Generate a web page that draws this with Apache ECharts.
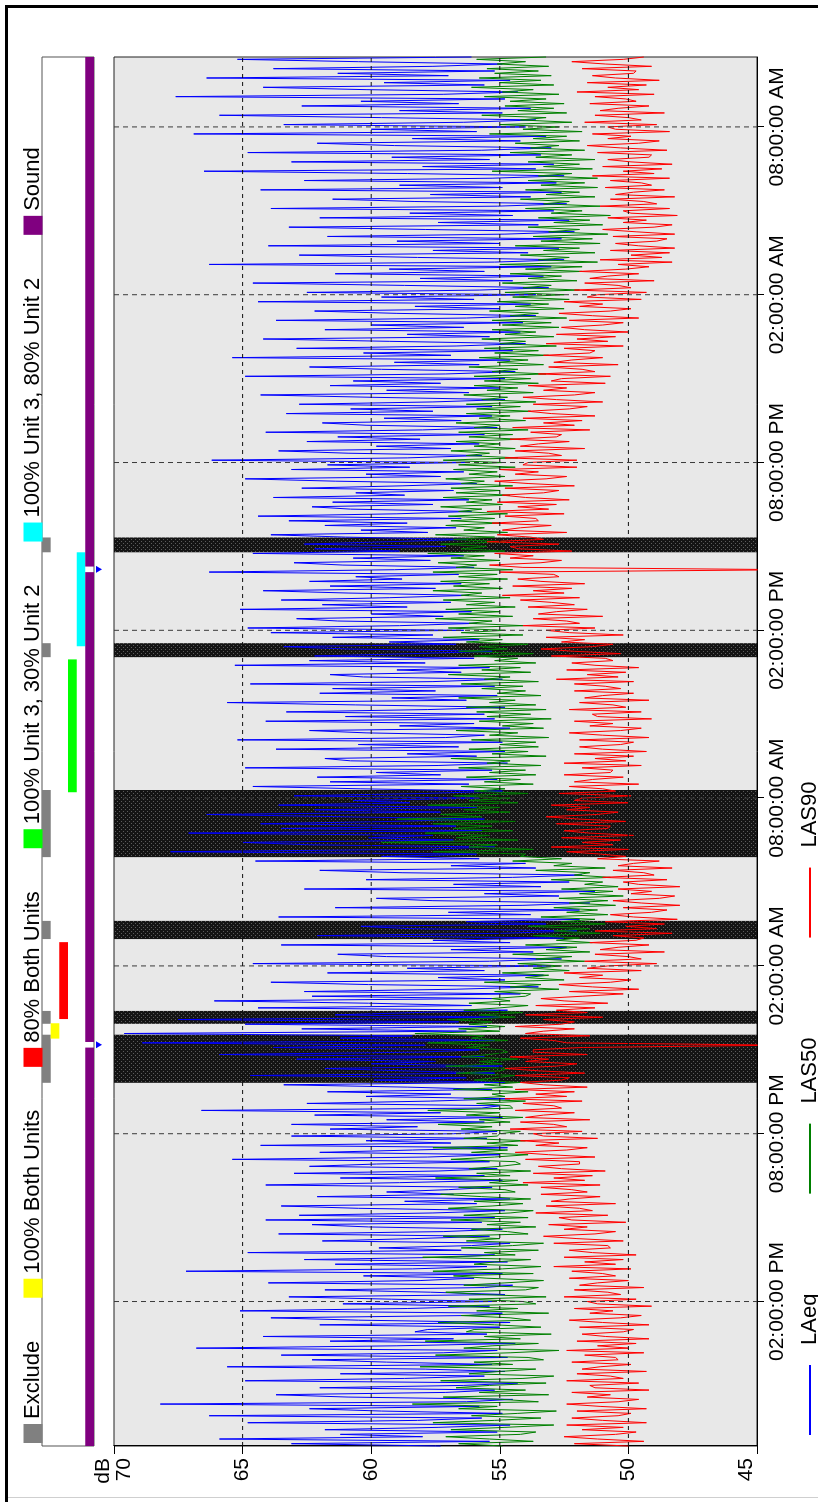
<!DOCTYPE html>
<html><head><meta charset="utf-8">
<script src="https://cdn.jsdelivr.net/npm/echarts@6/dist/echarts.min.js"></script>
<style>
html,body{margin:0;padding:0;background:#fff;overflow:hidden;width:818px;height:1502px;}
#chart{position:absolute;left:0;top:0;width:1502px;height:818px;transform-origin:0 0;transform:translate(0,1502px) rotate(-90deg);}
</style></head><body><div id="chart"></div>
<script>
// time in clock hours counted from midnight of day 1 (24 = midnight day 2, 48 = midnight day 3)
const startHour = 8 + 50/60;   // 08:50 AM day 1
const stepMinutes = 5;
const endHour = 58.5;          // 10:30 AM day 3

const laeq = [
57.3,63.1,55.4,65.9,58.0,61.2,
55.1,61.8,57.4,54.6,64.8,58.2,55.7,66.3,
54.9,59.6,62.4,55.8,68.2,56.3,54.5,60.9,63.7,57.1,55.2,62.0,
56.4,54.3,64.9,58.7,55.6,61.2,54.8,57.9,65.6,55.3,59.4,62.3,
54.7,63.5,57.2,55.1,66.8,59.0,54.4,61.6,56.8,64.2,55.5,58.3,
57.8,55.0,62.0,54.6,60.5,63.9,56.2,54.9,65.1,58.6,55.4,61.1,
55.3,59.2,63.2,54.8,57.7,61.8,55.6,54.5,64.0,58.1,56.0,60.3,
54.9,67.2,58.4,55.5,61.4,54.7,62.6,57.0,55.2,64.8,56.5,59.7,
56.1,54.6,61.9,58.3,55.4,63.6,57.2,54.9,60.1,62.3,55.7,64.1,
55.2,62.8,57.6,54.8,60.5,63.5,55.9,58.7,54.6,62.1,56.8,59.4,
57.0,55.3,64.1,58.9,54.9,61.2,55.6,63.0,57.4,55.1,62.4,59.8,
55.4,65.4,57.8,55.0,62.0,58.4,54.7,64.3,56.9,60.2,55.5,63.1,
56.8,55.1,61.6,58.2,63.1,55.6,59.4,54.9,62.2,57.3,66.6,55.7,
55.0,62.5,57.7,54.6,60.2,56.9,61.7,55.3,58.6,63.4,54.8,59.9,
56.3,64.7,55.2,58.8,61.8,54.9,60.0,57.5,62.9,55.6,65.9,58.1,
55.8,63.8,57.9,68.9,55.2,61.2,58.4,69.6,56.3,62.7,55.5,64.9,
56.6,67.5,55.0,61.4,58.3,54.7,64.4,56.1,60.1,66.1,55.3,62.3,
54.2,62.6,56.7,53.5,60.1,63.9,54.8,57.4,53.3,61.7,55.6,58.6,
53.0,64.6,55.4,52.6,59.4,61.3,53.7,56.9,52.4,63.5,54.6,57.6,
52.5,62.1,54.9,52.0,58.5,60.4,53.2,56.3,51.9,63.6,53.8,57.0,
51.9,61.4,54.1,51.5,57.6,59.8,52.7,55.6,51.3,62.6,53.4,56.8,
52.3,60.2,54.5,51.8,58.8,62.0,53.6,56.9,54.0,64.5,55.8,59.6,
55.9,67.8,58.3,55.2,62.4,65.0,56.8,60.1,57.6,67.1,55.7,63.5,
56.7,64.3,59.2,55.6,61.0,66.4,57.3,62.2,55.9,63.6,58.5,60.7,
55.8,63.0,57.9,54.9,60.4,64.6,56.2,61.6,55.1,62.1,57.3,59.8,
55.3,64.9,57.4,54.7,60.8,61.8,55.9,58.6,54.8,63.7,56.6,60.5,
54.9,65.2,57.1,55.6,60.2,62.4,54.6,58.9,56.0,64.1,55.2,61.0,
55.6,63.3,57.8,54.8,60.6,65.6,56.3,59.2,55.1,62.0,57.5,61.5,
55.2,64.7,57.6,54.9,60.3,61.6,56.5,59.0,55.4,65.3,57.9,62.4,
56.0,62.2,58.4,55.3,60.9,63.4,56.7,59.3,55.8,61.5,57.6,63.9,
56.4,64.8,58.9,55.9,61.3,62.9,57.2,60.0,56.1,65.1,58.6,61.9,
56.9,63.5,59.3,56.2,60.9,64.2,57.5,61.6,56.5,62.4,58.8,60.6,
56.6,66.3,59.1,56.0,61.1,63.0,57.7,60.7,56.4,64.6,58.9,62.2,
57.1,62.6,59.4,56.3,61.0,63.9,57.8,60.4,56.7,61.8,58.6,63.2,
56.5,64.4,59.0,56.1,60.8,62.3,57.6,61.5,56.2,63.8,58.7,60.6,
56.8,62.7,58.8,55.9,61.4,64.9,57.3,60.2,56.4,63.1,58.5,61.7,
56.2,66.2,58.6,55.7,60.9,63.6,56.9,59.8,55.8,62.5,58.1,61.3,
55.6,64.1,58.0,55.1,60.2,61.9,56.5,59.5,55.3,63.3,57.6,60.8,
55.3,62.8,57.6,54.8,60.0,64.3,56.2,59.4,55.0,61.6,57.3,60.7,
54.8,64.9,57.1,54.4,59.6,62.4,55.8,59.1,54.6,65.4,56.9,60.3,
54.5,62.9,56.7,54.0,59.3,64.2,55.4,58.6,54.2,61.8,56.4,60.0,
54.1,63.7,56.3,53.6,59.0,62.2,55.0,58.3,53.8,64.4,56.0,59.6,
53.6,62.5,55.8,53.1,58.7,64.6,54.5,58.1,53.3,61.4,55.6,59.3,
53.0,66.3,55.2,52.5,58.2,62.8,53.9,57.6,52.7,64.0,55.0,59.0,
52.6,61.7,54.8,52.1,57.9,63.2,53.5,57.4,52.3,62.0,54.5,58.5,
52.9,63.9,55.1,52.4,58.3,61.5,53.8,57.7,52.6,64.3,54.9,58.9,
52.8,62.6,55.3,52.5,58.6,66.5,53.6,58.0,52.9,63.1,55.4,59.2,
53.4,64.8,55.7,53.0,59.1,62.1,54.2,58.4,53.2,66.9,55.9,60.0,
54.0,63.4,56.4,53.6,59.6,65.9,54.9,58.9,53.8,62.7,56.6,60.4,
54.8,67.6,57.2,54.3,60.2,64.2,55.6,59.5,54.6,66.4,57.0,61.3,
55.2,63.8,57.6,54.9,60.5,65.2,56.1
];
const las50 = [
54.9,56.6,53.7,55.4,57.1,54.2,
53.6,56.9,54.8,52.9,57.6,55.2,53.4,56.1,
54.3,52.8,56.6,55.1,58.4,53.5,54.9,57.2,53.1,55.8,54.0,56.7,
55.4,53.2,57.3,54.1,52.9,56.2,55.0,53.6,58.1,54.5,56.0,53.3,
53.9,57.5,54.6,52.7,56.4,55.3,53.5,57.9,54.2,55.6,53.0,56.3,
56.0,53.4,55.2,57.4,53.8,54.6,56.5,53.1,55.9,54.3,57.0,53.6,
54.1,56.2,53.2,55.7,57.1,54.0,53.5,56.4,54.8,53.3,55.5,56.8,
53.7,57.6,54.9,53.4,56.0,55.2,53.8,58.0,54.4,55.6,53.5,56.5,
54.5,53.3,56.3,55.0,57.2,53.9,54.7,56.1,53.6,55.5,54.2,56.9,
53.9,56.4,54.6,53.7,57.0,55.3,54.1,56.0,53.8,55.7,57.3,54.4,
54.8,56.6,53.9,55.4,54.3,57.5,54.6,55.9,53.8,56.2,55.0,54.2,
54.4,56.9,55.2,53.9,56.1,54.7,57.6,54.3,55.5,54.0,56.4,55.1,
55.0,54.2,56.5,55.3,57.4,54.6,55.8,54.1,56.3,55.0,57.8,54.5,
54.6,55.9,54.0,56.4,54.8,55.3,53.9,56.8,54.5,55.6,54.2,56.0,
55.2,54.4,56.7,55.0,54.6,57.1,54.9,55.8,54.3,56.5,55.4,54.7,
54.9,56.3,55.4,57.8,54.7,56.1,55.6,58.3,55.0,56.6,54.8,56.2,
55.3,57.0,54.4,55.8,54.1,56.4,55.0,53.9,56.2,54.6,55.3,54.0,
53.8,55.2,52.7,54.6,53.4,55.6,52.5,54.0,53.1,54.9,52.3,53.7,
52.6,54.3,51.7,53.6,52.2,54.5,51.5,53.2,52.0,54.0,51.4,52.8,
51.9,53.7,51.1,52.9,51.5,53.9,50.9,52.6,51.3,53.4,50.8,52.4,
51.2,52.9,50.5,52.3,50.8,52.7,50.2,51.9,50.6,52.6,50.4,51.7,
51.0,53.0,50.7,52.1,51.5,53.6,50.9,52.9,52.2,54.5,52.6,54.2,
54.0,57.6,53.7,56.2,55.1,59.6,54.3,56.7,55.4,57.9,54.5,56.8,
55.3,57.6,54.4,59.0,55.7,57.3,54.6,56.4,55.0,57.8,54.3,56.2,
54.6,56.8,53.9,56.0,54.8,56.5,53.7,55.6,54.2,56.3,53.6,55.4,
54.0,56.6,53.4,55.5,54.6,56.9,53.2,55.3,53.9,56.2,53.5,55.0,
53.6,56.1,53.1,55.4,54.3,56.7,53.3,54.9,53.7,55.8,53.0,55.5,
53.8,55.9,53.2,56.3,53.6,55.4,54.4,56.6,53.4,55.1,54.0,55.7,
54.1,56.5,53.5,55.6,54.6,57.0,53.8,55.7,54.2,56.6,53.6,55.2,
54.3,56.0,53.7,56.6,54.7,55.8,53.9,56.3,54.9,57.2,54.1,56.5,
54.8,57.0,54.1,56.2,55.3,57.5,54.5,56.6,55.0,57.1,54.4,56.3,
55.2,57.2,54.6,56.5,55.7,57.6,54.9,56.8,55.4,57.3,54.7,56.6,
55.1,57.6,54.5,56.7,55.9,57.4,55.0,56.9,55.6,57.8,54.8,56.5,
55.5,57.3,54.8,56.8,55.2,57.5,54.7,56.4,55.6,57.1,55.0,56.9,
55.2,57.0,54.7,56.6,55.7,57.3,54.9,56.3,55.3,57.2,54.6,56.7,
55.0,56.9,54.5,56.5,55.6,57.1,54.8,56.2,55.1,56.8,54.4,56.6,
54.9,57.2,54.3,56.3,55.4,56.9,54.4,56.0,55.0,56.7,54.2,56.2,
54.5,56.6,53.9,56.0,55.0,56.7,54.0,55.8,54.6,56.3,53.8,55.9,
54.2,56.3,53.6,55.7,54.7,56.4,53.7,55.5,54.3,56.0,53.5,55.6,
53.8,56.0,53.2,55.3,54.3,56.2,53.3,55.1,53.9,55.8,53.1,55.2,
53.5,55.6,52.8,55.0,54.0,55.7,52.9,54.8,53.6,55.3,52.7,54.9,
53.0,55.3,52.4,54.6,53.5,55.4,52.5,54.4,53.1,55.1,52.3,54.5,
52.5,54.8,51.9,54.1,53.0,54.9,52.0,53.9,52.6,54.6,51.8,54.0,
51.8,55.0,51.2,53.5,52.3,54.2,51.3,53.3,51.9,54.4,51.1,53.4,
51.4,53.7,50.8,53.1,51.9,53.9,51.0,52.9,51.5,53.5,50.7,53.0,
51.8,54.0,51.1,53.3,52.3,54.2,51.3,53.2,51.9,54.0,51.2,53.4,
51.7,53.9,51.2,53.5,52.2,55.3,51.4,53.3,51.9,53.9,51.3,53.6,
52.2,54.6,51.7,53.8,52.7,54.4,51.9,53.7,52.4,55.4,51.8,54.1,
52.7,55.0,52.2,54.2,53.2,55.7,52.4,54.3,52.9,54.8,52.5,54.6,
53.2,55.6,52.7,54.9,53.7,56.1,52.9,55.0,53.4,55.8,53.0,55.2,
53.5,55.5,53.1,55.1,54.0,55.9,53.2
];
const las90 = [
50.0,52.1,49.4,51.2,52.5,50.5,
49.7,51.8,50.2,52.4,49.3,51.0,52.2,50.4,
49.9,52.0,49.3,51.1,52.4,50.4,49.6,51.6,50.7,52.2,49.2,51.3,
51.5,49.6,52.4,50.2,50.7,52.0,49.3,51.8,51.1,49.9,52.2,50.4,
50.5,51.7,49.4,52.4,50.0,51.2,49.7,52.0,49.2,50.9,51.8,50.2,
49.8,51.9,49.2,51.0,52.3,50.3,49.5,51.5,50.6,52.1,49.1,51.2,
51.6,49.7,52.5,50.3,50.8,52.1,49.4,51.9,51.2,50.0,52.3,50.5,
51.0,52.2,49.9,52.9,50.5,51.7,50.2,52.5,49.7,51.4,52.3,50.7,
50.8,52.9,50.2,52.0,53.3,51.3,50.5,52.5,51.6,53.1,50.1,52.2,
52.7,50.8,53.6,51.4,51.9,53.2,50.5,53.0,52.3,51.1,53.4,51.6,
52.2,53.4,51.1,54.1,51.7,52.9,51.4,53.7,50.9,52.6,53.5,51.9,
51.9,54.0,51.3,53.1,54.4,52.4,51.6,53.6,52.7,54.2,51.2,53.3,
53.7,51.8,54.6,52.4,52.9,54.2,51.5,54.0,53.3,52.1,54.4,52.6,
52.9,54.1,51.8,54.8,52.4,53.6,52.1,54.4,51.6,53.3,54.2,52.6,
52.3,54.4,51.7,53.5,54.8,52.8,52.0,54.0,53.1,54.6,51.6,53.7,
53.7,51.8,44.0,52.4,52.9,54.2,51.5,54.0,53.3,52.1,54.4,52.6,
52.1,53.3,51.0,54.0,51.6,52.8,51.3,53.6,50.8,52.5,53.4,51.8,
50.2,52.3,49.6,51.4,52.7,50.7,49.9,51.9,51.0,52.5,49.5,51.6,
50.8,48.9,51.7,49.5,50.0,51.3,48.6,51.1,50.4,49.2,51.5,49.7,
49.4,50.6,48.3,51.3,48.9,50.1,48.6,50.9,48.1,49.8,50.7,49.1,
48.5,50.2,48.0,49.5,50.6,48.8,48.2,49.9,49.1,50.4,48.0,49.6,
50.2,48.5,51.0,49.0,49.4,50.6,48.3,50.4,49.8,48.8,51.2,50.1,
51.1,52.4,50.0,53.0,50.6,51.8,50.3,52.6,49.8,51.5,52.5,50.8,
50.7,52.8,50.1,51.9,53.2,51.2,50.4,52.4,51.5,53.0,50.0,52.1,
51.8,49.9,52.7,50.5,51.0,52.3,49.6,52.1,51.4,50.2,52.5,50.7,
50.6,51.8,49.5,52.5,50.1,51.3,49.8,52.1,49.3,51.0,51.9,50.3,
49.8,51.9,49.2,51.0,52.3,50.3,49.5,51.5,50.6,52.1,49.1,51.2,
51.4,49.5,52.3,50.1,50.6,51.9,49.2,51.7,51.0,49.8,52.1,50.3,
50.9,52.1,49.8,52.8,50.4,51.6,50.1,52.4,49.6,51.3,52.2,50.6,
50.9,53.0,50.3,52.1,53.4,51.4,50.6,52.6,51.7,53.2,50.2,52.3,
53.2,51.3,54.1,51.9,52.4,53.7,51.0,53.5,52.8,51.6,53.9,52.1,
53.0,54.2,51.9,54.9,52.5,53.7,52.2,54.5,51.7,53.4,54.3,52.7,
52.9,55.0,43.5,54.1,55.4,53.4,52.6,54.6,53.7,55.2,52.2,54.3,
54.6,52.7,55.5,53.3,53.8,55.1,52.4,54.9,54.2,53.0,55.3,53.5,
53.6,54.8,52.5,55.5,53.1,54.3,52.8,55.1,52.3,54.0,54.9,53.3,
52.7,54.8,52.1,53.9,55.2,53.2,52.4,54.4,53.5,55.0,52.0,54.1,
53.9,52.0,54.8,52.6,53.1,54.4,51.7,54.2,53.5,52.3,54.6,52.8,
52.6,53.8,51.5,54.5,52.1,53.3,51.8,54.1,51.3,53.0,53.9,52.3,
51.6,53.7,51.0,52.8,54.1,52.1,51.3,53.3,52.4,53.9,50.9,53.0,
52.6,50.7,53.5,51.3,51.8,53.1,50.4,52.9,52.2,51.0,53.3,51.5,
51.3,52.5,50.2,53.2,50.8,52.0,50.5,52.8,50.0,51.7,52.6,51.0,
50.2,52.3,49.6,51.4,52.7,50.7,49.9,51.9,51.0,52.5,49.5,51.6,
51.2,49.3,52.1,49.9,50.4,51.7,49.0,51.5,50.8,49.6,51.9,50.1,
49.2,50.4,48.3,51.1,48.7,49.9,48.4,50.7,48.2,49.6,50.5,48.9,
48.5,50.6,48.2,49.7,51.0,49.0,48.3,50.2,49.3,50.8,48.1,49.9,
50.2,48.4,51.1,48.9,49.4,50.7,48.2,50.5,49.8,48.6,50.9,49.1,
49.5,50.7,48.4,51.4,49.0,50.2,48.7,51.0,48.3,49.9,50.8,49.2,
49.1,51.2,48.5,50.3,51.6,49.6,48.8,50.8,49.9,51.4,48.4,50.5,
50.8,48.9,51.7,49.5,50.0,51.3,48.6,51.1,50.4,49.2,51.5,49.7,
50.1,51.3,49.0,52.0,49.6,50.8,49.3,51.6,48.8,50.5,51.4,49.8,
49.7,51.8,49.1,50.9,52.2,50.2,49.4
];

const tickHours = [14, 20, 26, 32, 38, 44, 50, 56];
const tickLabels = ['02:00:00 PM','08:00:00 PM','02:00:00 AM','08:00:00 AM','02:00:00 PM','08:00:00 PM','02:00:00 AM','08:00:00 AM'];
const dbMin = 45, dbMax = 70, dbStep = 5;
const dbGridValues = [50, 55, 60, 65];

const excludeBands = [[21.82,23.54],[23.93,24.39],[26.96,27.61],[29.89,32.29],[37.04,37.54],[40.79,41.32]];
const stripCategories = ['Exclude','100% Both Units','80% Both Units','100% Unit 3, 30% Unit 2','100% Unit 3, 80% Unit 2','Sound'];
const stripColors = ['#808080','#ffff00','#ff0000','#00ff00','#00ffff','#800080'];
const stripIntervals = [
  excludeBands,
  [[23.40,23.95]],
  [[24.10,26.85]],
  [[32.21,36.96]],
  [[37.43,40.79]],
  [[startHour,23.08],[23.28,40.08],[40.28,endHour]]
];
const markerHours = [23.18, 40.18];
const lineNames = ['LAeq','LAS50','LAS90'];
const lineColors = ['#0000ff','#008000','#ff0000'];

const FONT = 'Liberation Sans, Arial, sans-serif';
function toPoints(arr){ return arr.map((v,i)=>[startHour + i*stepMinutes/60, v]); }

// texture for excluded periods
const pc = document.createElement('canvas'); pc.width = 4; pc.height = 4;
const pctx = pc.getContext('2d');
pctx.fillStyle = '#141414'; pctx.fillRect(0,0,4,4);
pctx.fillStyle = '#5c5c5c'; pctx.fillRect(0,1,1,1); pctx.fillRect(2,3,1,1);
const bandFill = {type:'pattern', image: pc, repeat: 'repeat'};

const chart = echarts.init(document.getElementById('chart'), null, {renderer:'canvas', width:1502, height:818});

const GL = 56, GR = 1445;

const series = [];
series.push({
  type:'custom', name:'excl-bands', xAxisIndex:0, yAxisIndex:0, z:1, silent:true, clip:true,
  data: excludeBands.map(b=>[b[0], b[1], dbMin]),
  encode:{x:[0,1], y:2},
  renderItem:(params, api)=>{
    const a = api.coord([api.value(0), dbMax]);
    const b = api.coord([api.value(1), dbMin]);
    return {type:'rect', shape:{x:a[0], y:a[1], width:b[0]-a[0], height:b[1]-a[1]}, style:{fill: bandFill}};
  }
});
[laeq, las50, las90].forEach((arr, k)=>{
  series.push({
    type:'line', name: lineNames[k], xAxisIndex:0, yAxisIndex:0, z:3+k,
    data: toPoints(arr), symbol:'none', showSymbol:false, clip:true,
    lineStyle:{color: lineColors[k], width:1}, itemStyle:{color: lineColors[k]}
  });
});
series.push({
  type:'custom', name:'time-grid', xAxisIndex:0, yAxisIndex:0, z:10, silent:true,
  data: tickHours.map(h=>[h, dbMin]),
  encode:{x:0, y:1},
  renderItem:(params, api)=>{
    const a = api.coord([api.value(0), dbMax]);
    const b = api.coord([api.value(0), dbMin]);
    return {type:'line', shape:{x1:a[0], y1:a[1], x2:b[0], y2:b[1]}, style:{stroke:'#3a3a3a', lineWidth:1, lineDash:[5,4]}};
  }
});
series.push({
  type:'custom', name:'db-grid', xAxisIndex:0, yAxisIndex:0, z:10, silent:true,
  data: dbGridValues.map(v=>[startHour, v]),
  encode:{x:0, y:1},
  renderItem:(params, api)=>{
    const a = api.coord([startHour, api.value(1)]);
    const b = api.coord([endHour, api.value(1)]);
    return {type:'line', shape:{x1:a[0], y1:a[1], x2:b[0], y2:b[1]}, style:{stroke:'#111', lineWidth:1, lineDash:[4,4]}};
  }
});
stripCategories.forEach((cat, k)=>{
  series.push({
    type:'custom', name: cat, xAxisIndex:1, yAxisIndex:1, z:2,
    itemStyle:{color: stripColors[k]},
    data: stripIntervals[k].map(iv=>[iv[0], iv[1], k]),
    encode:{x:[0,1], y:2},
    renderItem:(params, api)=>{
      const s = api.coord([api.value(0), api.value(2)]);
      const e = api.coord([api.value(1), api.value(2)]);
      const h = api.size([0,1])[1];
      return {type:'rect', shape:{x:s[0], y:s[1]-h/2, width:e[0]-s[0], height:h}, style:{fill: stripColors[k]}};
    }
  });
});
series.push({
  type:'custom', name:'markers', xAxisIndex:1, yAxisIndex:1, z:3, clip:false, silent:true,
  data: markerHours.map(h=>[h, 5]),
  encode:{x:0, y:1},
  renderItem:(params, api)=>{
    const p = api.coord([api.value(0), api.value(1)]);
    const half = api.size([0,1])[1]/2;
    const y = p[1] + half + 2;
    return {type:'polygon', shape:{points:[[p[0]-3.5,y],[p[0]+3.5,y],[p[0],y+6]]}, style:{fill:'#0000ff'}};
  }
});

const option = {
  animation:false,
  backgroundColor:'#ffffff',
  textStyle:{fontFamily: FONT, color:'#000'},
  graphic:[
    {type:'rect', shape:{x:0, y:5, width:1497, height:3}, style:{fill:'#000'}},
    {type:'rect', shape:{x:1494, y:5, width:3, height:813}, style:{fill:'#000'}},
    {type:'rect', shape:{x:4, y:8, width:1, height:810}, style:{fill:'#cfcfcf'}}
  ],
  legend:[
    {data: stripCategories, left:54, top:17, icon:'rect', itemWidth:19, itemHeight:19, itemGap:43,
     textStyle:{fontSize:22, color:'#000', fontFamily:FONT}, selectedMode:false},
    {data: lineNames, left:62, top:794, icon:'rect', itemWidth:70, itemHeight:2, itemGap:100,
     textStyle:{fontSize:22, color:'#000', fontFamily:FONT, padding:[0,0,0,15]}, selectedMode:false}
  ],
  grid:[
    {left:GL, top:114, width:GR-GL, height:643, show:true, backgroundColor:'#e8e8e8', borderColor:'#222', borderWidth:1, containLabel:false},
    {left:GL, top:42, width:GR-GL, height:52, show:true, backgroundColor:'#ffffff', borderColor:'#555', borderWidth:1, containLabel:false}
  ],
  xAxis:[
    {type:'value', gridIndex:0, min:startHour, max:endHour,
     axisLine:{show:true, lineStyle:{color:'#000'}},
     axisTick:{show:true, customValues: tickHours, length:7, lineStyle:{color:'#000'}},
     axisLabel:{show:true, customValues: tickHours, fontSize:21, color:'#000', margin:10, fontFamily:FONT,
       formatter:(v)=>{const i = tickHours.indexOf(v); return i>=0 ? tickLabels[i] : '';}},
     splitLine:{show:false}},
    {type:'value', gridIndex:1, min:startHour, max:endHour, show:false}
  ],
  yAxis:[
    {type:'value', gridIndex:0, min:dbMin, max:dbMax, interval:dbStep,
     name:'dB', nameLocation:'end', nameGap:11,
     nameTextStyle:{fontSize:21, color:'#000', align:'right', verticalAlign:'middle', padding:[0,12,0,0], fontFamily:FONT},
     axisLine:{show:true, lineStyle:{color:'#000'}},
     axisTick:{show:true, length:8, lineStyle:{color:'#000'}},
     axisLabel:{fontSize:21, color:'#000', margin:12, fontFamily:FONT, verticalAlignMaxLabel:'top', verticalAlignMinLabel:'bottom'},
     splitLine:{show:false}},
    {type:'category', gridIndex:1, data: stripCategories, inverse:true, show:false}
  ],
  series: series
};
chart.setOption(option);
</script></body></html>
